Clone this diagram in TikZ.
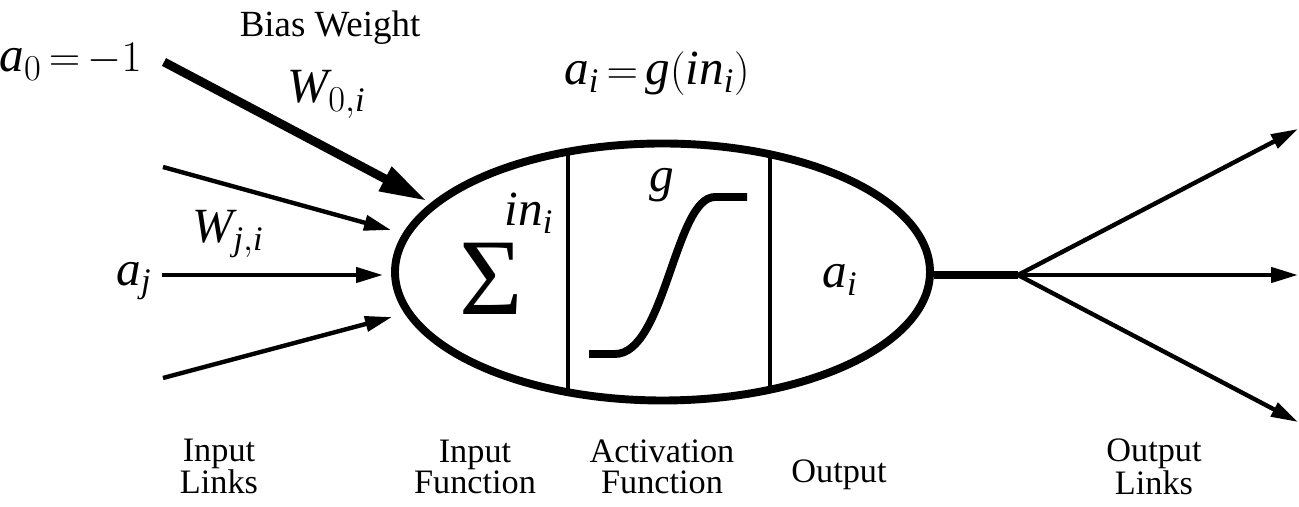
\documentclass[tikz,border=0pt]{standalone}
\usepackage{amstext}
\usepackage{fontspec}
\setmainfont{LiberationSerif}[Extension=.ttf,UprightFont=*-Regular,
  ItalicFont=*-Italic,BoldFont=*-Bold,BoldItalicFont=*-BoldItalic]
\usetikzlibrary{arrows.meta,shapes.geometric}
\newcommand{\ivar}[1]{\textit{#1}}
\thickmuskip=3mu plus 2mu

\begin{document}
\begin{tikzpicture}[
  neuron/.style={draw,ellipse,line width=4.5pt,minimum width=10.7cm,
    minimum height=5.14cm,inner sep=0pt},
  link/.style={line width=2.5pt,-{Triangle[length=5.4mm,width=3mm]}},
  biaslink/.style={line width=5pt,-{Triangle[length=9.5mm,width=5.1mm]}},
  stem/.style={line width=5pt},
  divider/.style={line width=2.3pt},
  sigmoid/.style={line width=4.5pt},
  term/.style={font=\fontsize{21}{21}\selectfont},
  sym/.style={font=\fontsize{28}{28}\selectfont},
  caption/.style={font=\fontsize{19.5}{17.6}\selectfont,align=center}
]
\useasboundingbox (0,0) rectangle (25.98,10.14);

% the unit
\node[neuron] (neuron) at (13.25,4.70) {};
\draw[divider] (11.36,2.30) -- (11.36,7.10);
\draw[divider] (15.40,2.35) -- (15.40,7.05);
\node[font=\fontsize{62}{62}\selectfont] (sigma) at (9.82,4.56) {Σ};
\node[sym] (net) at (10.58,5.88) {$\ivar{in}_{\ivar{i}}$};
\node[sym] (gname) at (13.23,6.44) {$\ivar{g}$};
\draw[sigmoid] (11.78,3.06) -- (12.30,3.06)
  .. controls (13.30,3.06) and (13.50,6.20) .. (14.30,6.20) -- (14.94,6.20);
\node[sym] (aout) at (16.80,4.54) {$\ivar{a}_{\ivar{i}}$};
\node[sym,anchor=base] (rule) at (13.14,8.44)
  {$\ivar{a}_{\ivar{i}} = \ivar{g}(\ivar{in}_{\ivar{i}})$};

% inputs
\node[sym,anchor=base east] (azero) at (2.96,8.70) {$\ivar{a}_0 = -1$};
\node[term,anchor=base] (biasw) at (6.60,9.40) {Bias Weight};
\node[sym,anchor=base] (wzero) at (6.53,8.08) {$\ivar{W}_{0,\ivar{i}}$};
\node[sym] (aj) at (2.68,4.52) {$\ivar{a}_{\ivar{j}}$};
\node[sym] (wji) at (4.56,5.46) {$\ivar{W}_{\ivar{j},\ivar{i}}$};

\coordinate (bstart) at (3.28,8.90);
\coordinate (bend) at (8.54,6.12);
\coordinate (in1) at (3.26,6.80);
\coordinate (in1end) at (7.82,5.54);
\coordinate (in2) at (3.24,4.64);
\coordinate (in2end) at (7.66,4.64);
\coordinate (in3) at (3.26,2.58);
\coordinate (in3end) at (7.84,3.80);

\draw[biaslink] (bstart) -- (bend);
\draw[link] (in1) -- (in1end);
\draw[link] (in2) -- (in2end);
\draw[link] (in3) -- (in3end);

% outputs
\coordinate (fork) at (20.36,4.64);
\coordinate (out1) at (25.96,7.56);
\coordinate (out2) at (25.96,4.64);
\coordinate (out3) at (25.96,1.70);
\draw[stem] (neuron.east |- fork) -- (fork);
\draw[link] (fork) -- (out1);
\draw[link] (fork) -- (out2);
\draw[link] (fork) -- (out3);

% captions
\node[caption] (inlinks) at (4.38,0.81) {Input\\Links};
\node[caption] (infunc) at (9.50,0.81) {Input\\Function};
\node[caption] (actfunc) at (13.24,0.81) {Activation\\Function};
\node[caption] (output) at (16.78,0.64) {Output};
\node[caption] (outlinks) at (23.08,0.81) {Output\\Links};
\end{tikzpicture}
\end{document}
